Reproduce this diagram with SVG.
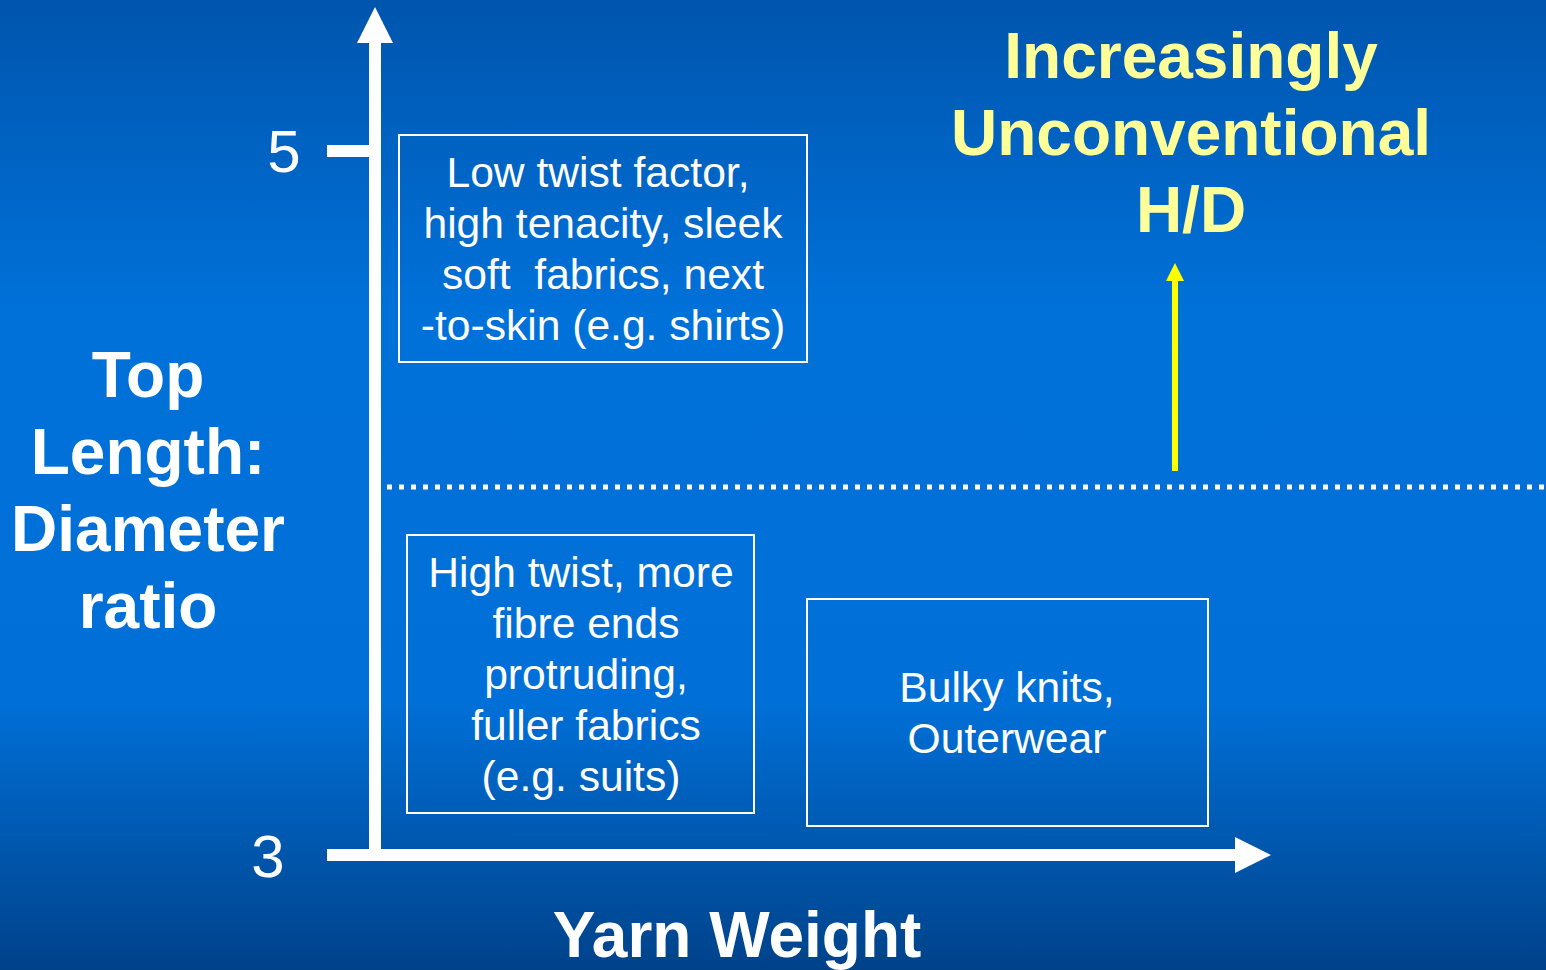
<svg xmlns="http://www.w3.org/2000/svg" width="1546" height="970" viewBox="0 0 1546 970">
<defs>
<linearGradient id="bg" x1="0" y1="0" x2="0" y2="1">
<stop offset="0" stop-color="#0055AD"/>
<stop offset="0.32" stop-color="#0071D9"/>
<stop offset="0.72" stop-color="#0070D8"/>
<stop offset="1" stop-color="#00428A"/>
</linearGradient>
<style>
.t{font-family:"Liberation Sans",Arial,sans-serif;fill:#fff;text-anchor:middle}
.box{font-size:42.6px}
.b{font-weight:bold;font-size:64px}
.y{fill:#FFFF99}
.frame{fill:none;stroke:#fff;stroke-width:2}
</style>
</defs>
<rect width="1546" height="970" fill="url(#bg)"/>
<g id="connectors">
<rect x="369" y="42" width="12" height="819" fill="#fff"/>
<polygon points="375,7 393,43 357,43" fill="#fff"/>
<rect x="327" y="145" width="44" height="12" fill="#fff"/>
<rect x="327" y="849" width="910" height="12" fill="#fff"/>
<polygon points="1271,855 1235,837 1235,873" fill="#fff"/>
<line x1="387" y1="487" x2="1546" y2="487" stroke="#fff" stroke-width="5" stroke-dasharray="5 7"/>
<rect x="1172" y="280" width="6" height="191" fill="#FFFF00"/>
<polygon points="1175,263 1184,281 1166,281" fill="#FFFF00"/>
</g>
<g id="tick5"><text class="t" x="284" y="172" font-size="60">5</text></g>
<g id="tick3"><text class="t" x="268" y="877" font-size="60">3</text></g>
<g id="ylabel">
<text class="t b" x="148" y="397">Top</text>
<text class="t b" x="148" y="474">Length:</text>
<text class="t b" x="148" y="551">Diameter</text>
<text class="t b" x="148" y="628">ratio</text>
</g>
<g id="xlabel"><text class="t b" x="737" y="957">Yarn Weight</text></g>
<g id="hd">
<text class="t b y" x="1191" y="78">Increasingly</text>
<text class="t b y" x="1191" y="155">Unconventional</text>
<text class="t b y" x="1191" y="232">H/D</text>
</g>
<g id="box1">
<rect class="frame" x="399" y="135" width="408" height="227"/>
<text class="t box" x="598" y="187">Low twist factor, </text>
<text class="t box" x="603" y="238">high tenacity, sleek</text>
<text class="t box" x="603" y="289" xml:space="preserve" style="white-space:pre">soft  fabrics, next</text>
<text class="t box" x="603" y="340">-to-skin (e.g. shirts)</text>
</g>
<g id="box2">
<rect class="frame" x="407" y="535" width="347" height="278"/>
<text class="t box" x="581" y="587">High twist, more</text>
<text class="t box" x="586" y="638">fibre ends</text>
<text class="t box" x="586" y="689">protruding,</text>
<text class="t box" x="586" y="740">fuller fabrics</text>
<text class="t box" x="581" y="791">(e.g. suits)</text>
</g>
<g id="box3">
<rect class="frame" x="807" y="599" width="401" height="227"/>
<text class="t box" x="1007" y="702">Bulky knits,</text>
<text class="t box" x="1007" y="753">Outerwear</text>
</g>
</svg>
